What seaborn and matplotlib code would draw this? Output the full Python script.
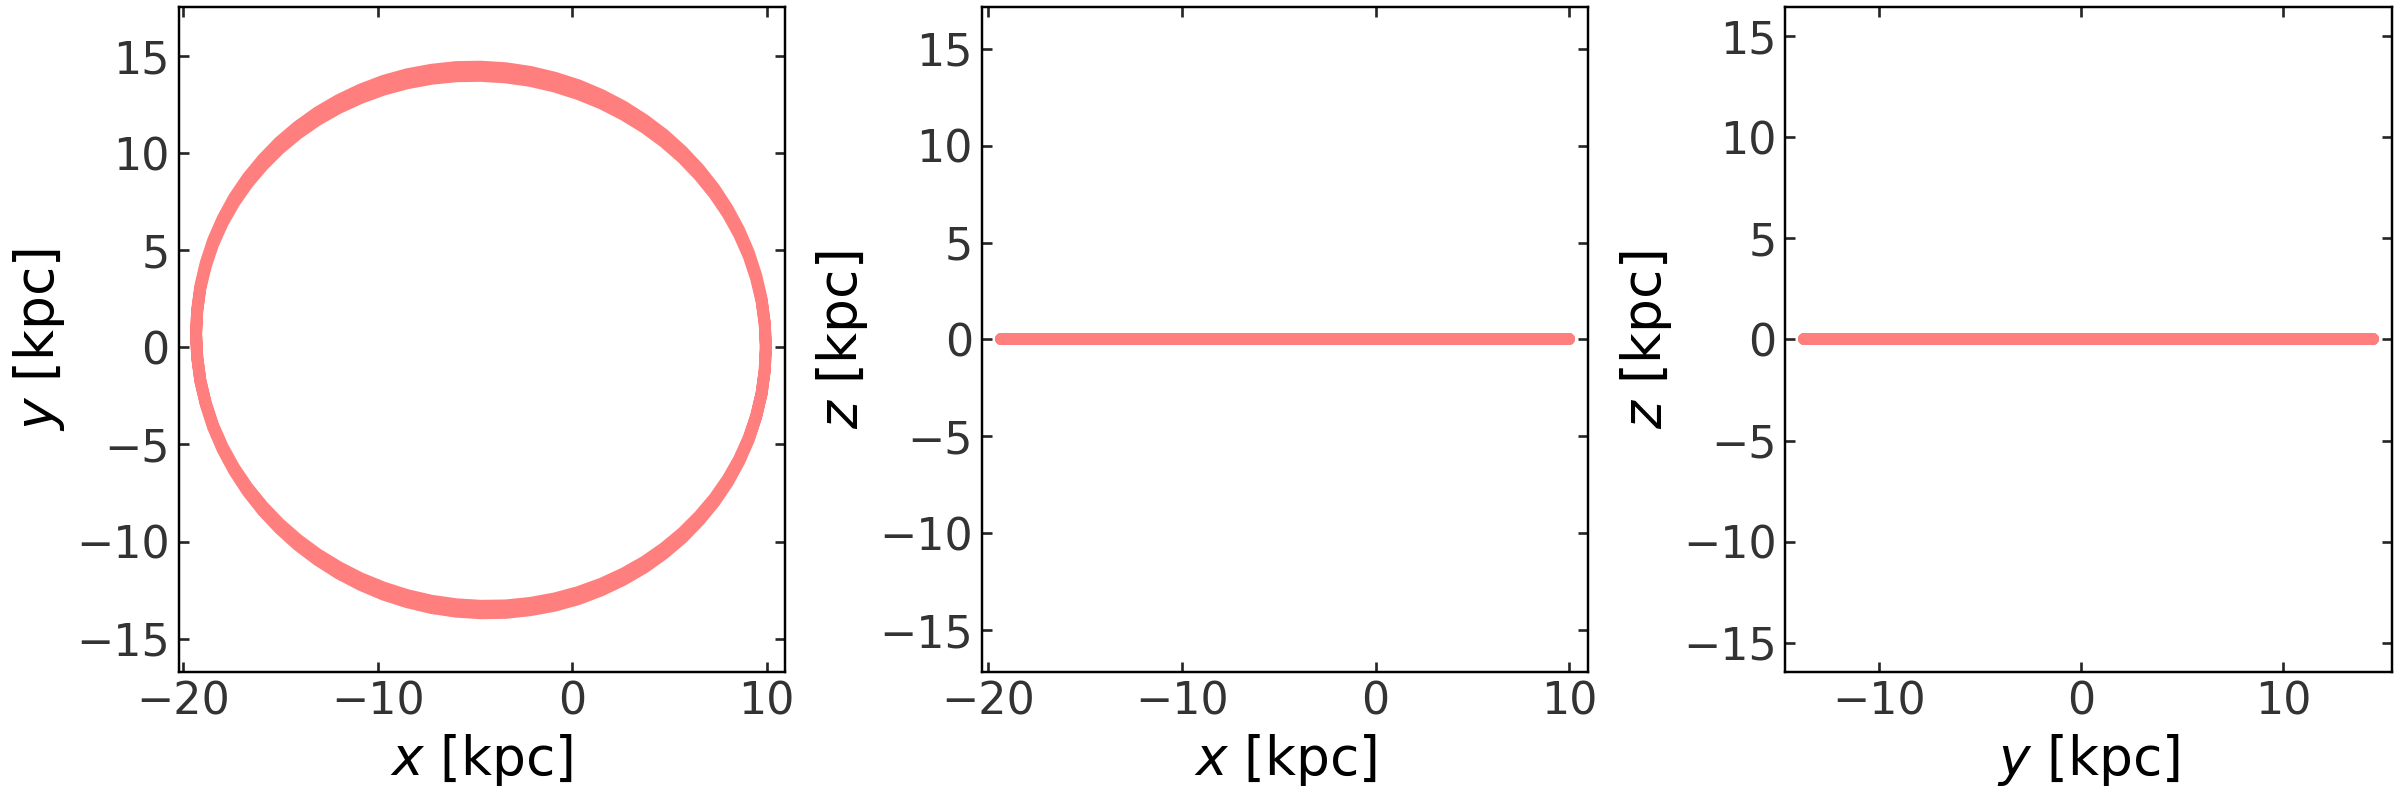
import numpy as np
import pandas as pd
import matplotlib.pyplot as plt
import seaborn as sns
from matplotlib.ticker import MultipleLocator

# orbit, one point every ~5 degrees round the loop
orbit_x = [9.96, 9.90, 9.74, 9.46, 9.08, 8.59, 8.00, 7.31, 6.53, 5.67,
           4.73, 3.71, 2.63, 1.50, 0.32, -0.90, -2.15, -3.42, -4.70, -5.97,
           -7.24, -8.49, -9.71, -10.89, -12.02, -13.10, -14.12, -15.06, -15.92, -16.70,
           -17.39, -17.98, -18.47, -18.85, -19.13, -19.29, -19.35,
           -19.29, -19.13, -18.85, -18.47, -17.98, -17.39, -16.70, -15.92, -15.06,
           -14.12, -13.10, -12.02, -10.89, -9.71, -8.49, -7.24, -5.97, -4.70, -3.42,
           -2.15, -0.90, 0.32, 1.50, 2.63, 3.71, 4.73, 5.67, 6.53, 7.31,
           8.00, 8.59, 9.08, 9.46, 9.74, 9.90, 9.96]

# first pass (outer edge at top and bottom)
orbit_y_first = [0.04, 1.27, 2.49, 3.70, 4.88, 6.02, 7.12, 8.18, 9.17, 10.09,
                 10.94, 11.71, 12.40, 12.99, 13.49, 13.88, 14.18, 14.37, 14.45, 14.43,
                 14.29, 14.06, 13.72, 13.27, 12.73, 12.10, 11.37, 10.57, 9.68, 8.73,
                 7.71, 6.63, 5.51, 4.35, 3.15, 1.94, 0.72,
                 -0.51, -1.73, -2.94, -4.12, -5.26, -6.36, -7.42, -8.41, -9.33,
                 -10.18, -10.95, -11.64, -12.23, -12.73, -13.12, -13.42, -13.61, -13.69, -13.67,
                 -13.53, -13.30, -12.96, -12.51, -11.97, -11.34, -10.61, -9.81, -8.92, -7.97,
                 -6.95, -5.87, -4.75, -3.59, -2.39, -1.18, 0.04]

# second pass (inner edge)
orbit_y_second = [0.00, 1.19, 2.37, 3.54, 4.69, 5.80, 6.87, 7.89, 8.85, 9.75,
                  10.57, 11.32, 11.98, 12.56, 13.04, 13.43, 13.72, 13.90, 13.98, 13.96,
                  13.83, 13.60, 13.27, 12.84, 12.32, 11.71, 11.00, 10.22, 9.36, 8.44,
                  7.45, 6.41, 5.32, 4.19, 3.03, 1.86, 0.67,
                  -0.52, -1.70, -2.87, -4.02, -5.13, -6.20, -7.22, -8.18, -9.08,
                  -9.90, -10.65, -11.31, -11.89, -12.37, -12.76, -13.05, -13.23, -13.31, -13.29,
                  -13.16, -12.93, -12.60, -12.17, -11.65, -11.04, -10.33, -9.55, -8.69, -7.77,
                  -6.78, -5.74, -4.65, -3.52, -2.36, -1.19, 0.00]

# orbit stays in the plane
orbit_z = [0.0] * 73

df = pd.DataFrame({
    "x": orbit_x + orbit_x,
    "y": orbit_y_first + orbit_y_second,
    "z": orbit_z + orbit_z,
})

sns.set_style("ticks", {"axes.edgecolor": "black"})

fig, axes = plt.subplots(1, 3, figsize=(15, 5), dpi=160)
fig.subplots_adjust(left=0.0744, right=0.9966, bottom=0.1604, top=0.9909, wspace=0.325)

line_kws = dict(color="red", alpha=0.5, linewidth=5.4, solid_capstyle="round",
                sort=False, estimator=None)

panels = [
    ("x", "y", (-20.25, 10.94), (-16.70, 17.51)),
    ("x", "z", (-20.32, 10.98), (-17.13, 17.13)),
    ("y", "z", (-14.62, 15.38), (-16.44, 16.44)),
]

for ax, (xc, yc, xlim, ylim) in zip(axes, panels):
    sns.lineplot(data=df, x=xc, y=yc, ax=ax, **line_kws)
    ax.set_xlim(*xlim)
    ax.set_ylim(*ylim)
    ax.xaxis.set_major_locator(MultipleLocator(10))
    ax.yaxis.set_major_locator(MultipleLocator(5))
    ax.set_xlabel(f"${xc}$ [kpc]", fontsize=24, color="black")
    ax.set_ylabel(f"${yc}$ [kpc]", fontsize=24, color="black")
    ax.tick_params(which="both", direction="in", top=True, right=True,
                   length=4.5, width=1.2, labelsize=20, labelcolor="0.2",
                   color="0.15", pad=4)
    for sp in ax.spines.values():
        sp.set_linewidth(1.1)
        sp.set_color("black")

plt.savefig("out.png", dpi=160)
